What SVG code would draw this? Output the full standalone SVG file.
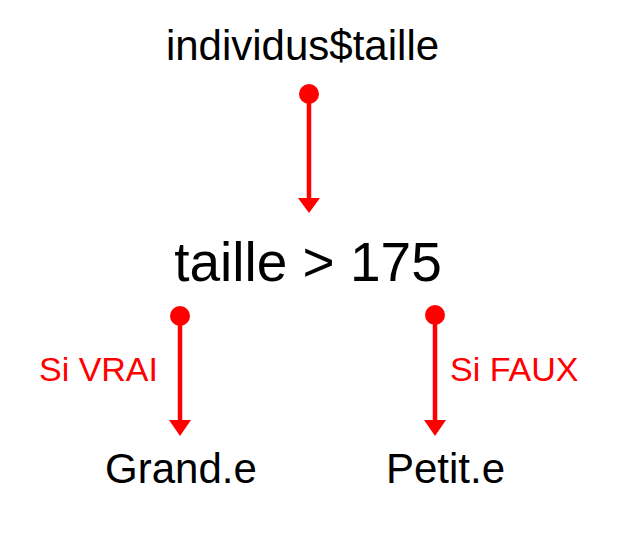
<svg xmlns="http://www.w3.org/2000/svg" width="638" height="538" viewBox="0 0 638 538">
<style>
.lbl{font-family:"Liberation Sans",Arial,sans-serif;fill:#000;text-anchor:middle}
.cond{font-family:"Liberation Sans",Arial,sans-serif;fill:#ff0000;font-size:34px}
.wire{stroke:#ff0000;stroke-width:4.5;fill:none}
.dot{fill:#ff0000}
.head{fill:#ff0000}
</style>
<rect width="638" height="538" fill="#fff"/>
<g id="node-individus">
<text class="lbl" x="302.5" y="60" font-size="42">individus$taille</text>
</g>
<g id="node-condition">
<text class="lbl" x="308" y="281" font-size="55">taille &gt; 175</text>
</g>
<g id="node-grand">
<text class="lbl" x="181" y="483" font-size="42">Grand.e</text>
</g>
<g id="node-petit">
<text class="lbl" x="445.5" y="483" font-size="42">Petit.e</text>
</g>
<g id="connectors">
<circle class="dot" cx="309" cy="94" r="10"/>
<line class="wire" x1="309" y1="94" x2="309" y2="200"/>
<polygon class="head" points="298,198 320,198 309,213"/>
<circle class="dot" cx="180" cy="316" r="10"/>
<line class="wire" x1="180" y1="316" x2="180" y2="422"/>
<polygon class="head" points="169,420 191,420 180,436"/>
<circle class="dot" cx="435" cy="315" r="10"/>
<line class="wire" x1="435" y1="315" x2="435" y2="422"/>
<polygon class="head" points="424,420 446,420 435,436"/>
<text class="cond" x="158" y="381" text-anchor="end">Si VRAI</text>
<text class="cond" x="450" y="381">Si FAUX</text>
</g>
</svg>
